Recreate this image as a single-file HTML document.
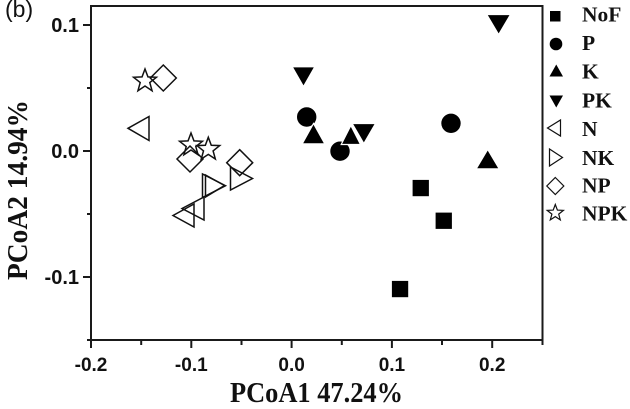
<!DOCTYPE html>
<html>
<head>
<meta charset="utf-8">
<style>
  html, body { margin: 0; padding: 0; background: #fff; }
  svg { display: block; }
  .tick { font-family: "Liberation Sans", Arial, sans-serif; font-weight: bold; font-size: 19px; fill: #111; }
  .ytick { font-family: "Liberation Sans", Arial, sans-serif; font-weight: bold; font-size: 20px; fill: #111; }
  .title { font-family: "Liberation Serif", "Times New Roman", serif; font-weight: bold; font-size: 29px; fill: #111; }
  .leg { font-family: "Liberation Serif", "Times New Roman", serif; font-weight: bold; font-size: 21.5px; fill: #111; }
</style>
</head>
<body>
<svg width="630" height="409" viewBox="0 0 630 409" xmlns="http://www.w3.org/2000/svg">
  <rect x="0" y="0" width="630" height="409" fill="#fff"/>

  <!-- panel label -->
  <text x="5" y="17" font-family="Liberation Sans, Arial, sans-serif" font-size="23" fill="#111">(b)</text>

  <!-- frame -->
  <rect x="91" y="6" width="451.5" height="334" fill="none" stroke="#1a1a1a" stroke-width="2"/>

  <!-- y ticks -->
  <g stroke="#1a1a1a" stroke-width="2">
    <line x1="83" y1="25" x2="91" y2="25"/>
    <line x1="83" y1="151" x2="91" y2="151"/>
    <line x1="83" y1="277" x2="91" y2="277"/>
    <line x1="87" y1="88" x2="91" y2="88"/>
    <line x1="87" y1="214" x2="91" y2="214"/>
    <line x1="87" y1="340" x2="91" y2="340"/>
    <!-- x ticks -->
    <line x1="91" y1="340" x2="91" y2="348"/>
    <line x1="191.3" y1="340" x2="191.3" y2="348"/>
    <line x1="291.6" y1="340" x2="291.6" y2="348"/>
    <line x1="391.9" y1="340" x2="391.9" y2="348"/>
    <line x1="492.2" y1="340" x2="492.2" y2="348"/>
    <line x1="141.2" y1="340" x2="141.2" y2="345"/>
    <line x1="241.5" y1="340" x2="241.5" y2="345"/>
    <line x1="341.8" y1="340" x2="341.8" y2="345"/>
    <line x1="442" y1="340" x2="442" y2="345"/>
    <line x1="542.5" y1="340" x2="542.5" y2="345"/>
  </g>

  <!-- y tick labels -->
  <g class="ytick" text-anchor="end">
    <text x="79" y="32">0.1</text>
    <text x="79" y="158">0.0</text>
    <text x="79" y="284">-0.1</text>
  </g>
  <!-- x tick labels -->
  <g class="tick" text-anchor="middle">
    <text x="91" y="371">-0.2</text>
    <text x="191.3" y="371">-0.1</text>
    <text x="291.6" y="371">0.0</text>
    <text x="391.9" y="371">0.1</text>
    <text x="492.2" y="371">0.2</text>
  </g>

  <!-- axis titles -->
  <text class="title" x="316.5" y="402" text-anchor="middle" textLength="173" lengthAdjust="spacingAndGlyphs">PCoA1 47.24%</text>
  <text class="title" transform="translate(27,190) rotate(-90)" x="0" y="0" text-anchor="middle" textLength="180" lengthAdjust="spacingAndGlyphs">PCoA2 14.94%</text>

  <!-- open markers -->
  <g fill="none" stroke="#111" stroke-width="1.5" stroke-linejoin="miter">
    <!-- NP diamonds -->
    <polygon points="163.3,65 176.3,78 163.3,91 150.3,78"/>
    <polygon points="190,146 203,159 190,172 177,159"/>
    <polygon points="239.7,149.7 252.7,162.7 239.7,175.7 226.7,162.7"/>
    <!-- NPK stars -->
    <polygon points="145,69 147.96,76.92 156.41,77.29 149.79,82.56 152.05,90.71 145,86.04 137.95,90.71 140.21,82.56 133.59,77.29 142.04,76.92"/>
    <polygon points="191,133 193.96,140.92 202.41,141.29 195.79,146.56 198.05,154.71 191,150.04 183.95,154.71 186.21,146.56 179.59,141.29 188.04,140.92"/>
    <polygon points="208.3,137.3 211.26,145.22 219.71,145.59 213.09,150.86 215.35,159.01 208.3,154.34 201.25,159.01 203.51,150.86 196.89,145.59 205.34,145.22"/>
    <!-- N left triangles -->
    <polygon points="128,128.3 149,116.5 149,140.5"/>
    <polygon points="173,215.5 194,204 194,227"/>
    <polygon points="182,208.5 204,197 204,220"/>
    <!-- NK right triangles -->
    <polygon points="230.5,167 230.5,190 252.5,178.5"/>
    <polygon points="202.5,174 202.5,197.5 225.5,185.7"/>
    <polygon points="205.5,175 205.5,197 224.5,185.5"/>
  </g>

  <!-- filled markers -->
  <g fill="#000" stroke="#fff" stroke-width="1.2">
    <!-- NoF squares -->
    <rect x="412" y="179.3" width="17.5" height="17.5"/>
    <rect x="435" y="212" width="17.5" height="17.5"/>
    <rect x="391.3" y="280.3" width="17.5" height="17.5"/>
    <!-- P circles -->
    <circle cx="306.7" cy="117" r="10.3"/>
    <circle cx="340" cy="151.2" r="10.3"/>
    <circle cx="451" cy="123.3" r="10.3"/>
    <!-- K up triangles -->
    <polygon points="302.2,143.8 324.8,143.8 313.5,123.5"/>
    <polygon points="341.2,144.5 360.5,144.5 350.85,125.5"/>
    <polygon points="476.2,168.8 499.2,168.8 487.7,149.5"/>
    <!-- PK down triangles -->
    <polygon points="292.2,66.8 314.8,66.8 303.5,86.5"/>
    <polygon points="352.2,123.5 375.5,123.5 363.85,143.5"/>
    <polygon points="486.8,14.5 510.5,14.5 498.65,34.5"/>
  </g>

  <!-- legend -->
  <g fill="#000">
    <rect x="550" y="11" width="10.5" height="10.5"/>
    <circle cx="556" cy="44" r="6.3"/>
    <polygon points="549.5,76.5 563,76.5 556.25,64.5"/>
    <polygon points="549.5,95.5 563,95.5 556.25,107.5"/>
  </g>
  <g fill="none" stroke="#111" stroke-width="1.2">
    <polygon points="547.5,128 560.5,120 560.5,136"/>
    <polygon points="549.5,149 549.5,166 562.5,157.5"/>
    <polygon points="555.3,177.5 563.8,186 555.3,194.5 546.8,186"/>
    <polygon points="555.3,204.5 557.4,210.1 563.4,210.4 558.7,214.1 560.3,219.9 555.3,216.6 550.3,219.9 551.9,214.1 547.2,210.4 553.2,210.1"/>
  </g>
  <g class="leg">
    <text x="582" y="21.7">NoF</text>
    <text x="582" y="50">P</text>
    <text x="582" y="78.3">K</text>
    <text x="582" y="107.3">PK</text>
    <text x="582" y="136">N</text>
    <text x="582" y="165">NK</text>
    <text x="582" y="192.7">NP</text>
    <text x="582" y="220.7">NPK</text>
  </g>
</svg>
</body>
</html>
